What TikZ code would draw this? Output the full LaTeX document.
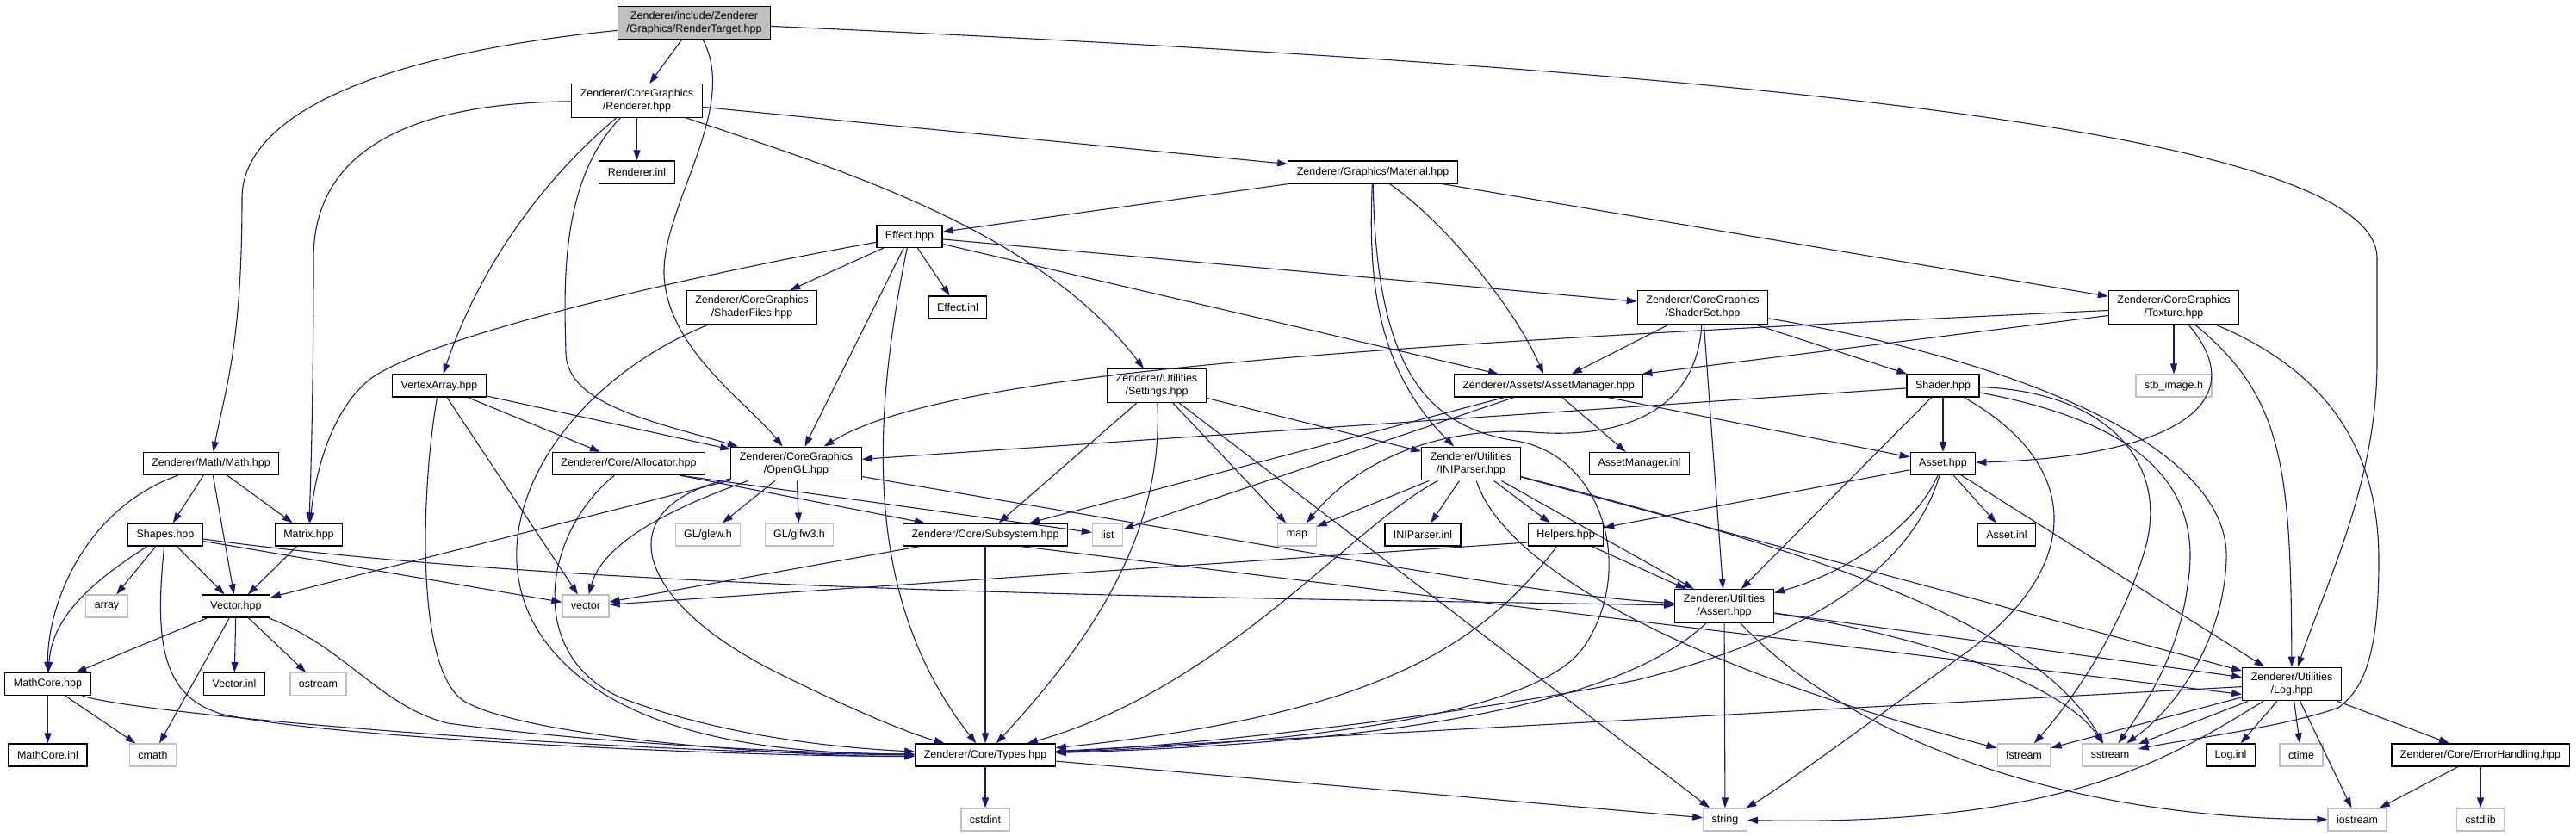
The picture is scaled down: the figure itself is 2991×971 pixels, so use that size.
\documentclass[tikz,border=0pt]{standalone}
\usepackage{fontspec}
\setmainfont{Liberation Sans}
\usetikzlibrary{positioning,arrows.meta}
\definecolor{edgeblue}{HTML}{191970}
\definecolor{sysgray}{HTML}{BFBFBF}

\begin{document}
\begin{tikzpicture}[
			x=1pt, y=-1pt,
			on grid,
			>={Triangle[length=12pt,width=8pt]},
			every node/.style={
				draw,
				fill=white,
				line width=1.2pt,
				minimum height=26pt,
				inner xsep=10pt,
				inner ysep=6pt,
				align=center,
				font=\fontsize{12.5}{15}\selectfont
			},
			sysnode/.style={draw=sysgray},
			rootnode/.style={fill=sysgray},
			incl/.style={->,draw=edgeblue,line width=1.1pt}
			]
			
			\useasboundingbox (0,0) rectangle (2991,971);
			
			%%%%%%%%%%%%%%%%%%%%%%%%%%%%%%%%%%%%%%%%%%%%%%%%%%%%%%%%%%%%
			% Root
			%%%%%%%%%%%%%%%%%%%%%%%%%%%%%%%%%%%%%%%%%%%%%%%%%%%%%%%%%%%%
			
			\node[rootnode] (rt) at (806,26.5) {Zenderer/include/Zenderer\\/Graphics/RenderTarget.hpp};
			
			\node (renderer) [below left=90.5pt and 66.5pt of rt]
			{Zenderer/CoreGraphics\\/Renderer.hpp};
			
			\node (rendererinl) [below=83pt of renderer] {Renderer.inl};
			
			\node (material) [right=854.5pt of rendererinl]
			{Zenderer/Graphics/Material.hpp};
			
			\node (effect) [below left=74.5pt and 538pt of material] {Effect.hpp};
			
			%%%%%%%%%%%%%%%%%%%%%%%%%%%%%%%%%%%%%%%%%%%%%%%%%%%%%%%%%%%%
			% Graphics Layer
			%%%%%%%%%%%%%%%%%%%%%%%%%%%%%%%%%%%%%%%%%%%%%%%%%%%%%%%%%%%%
			
			\node (shaderfiles) [below left=82.5pt and 183pt of effect]
			{Zenderer/CoreGraphics\\/ShaderFiles.hpp};
			
			\node (effectinl) [right=239pt of shaderfiles] {Effect.inl};
			
			\node (shaderset) [right=865pt of effectinl]
			{Zenderer/CoreGraphics\\/ShaderSet.hpp};
			
			\node (texture) [right=547pt of shaderset]
			{Zenderer/CoreGraphics\\/Texture.hpp};
			
			\node (vertexarray) [below left=91pt and 363pt of shaderfiles] {VertexArray.hpp};
			
			\node (settings) [right=833pt of vertexarray]
			{Zenderer/Utilities\\/Settings.hpp};
			
			\node (assetmgr) [right=455pt of settings]
			{Zenderer/Assets/AssetManager.hpp};
			
			\node (shader) [right=458pt of assetmgr] {Shader.hpp};
			
			\node[sysnode] (stbimage) [below=91pt of texture] {stb\_image.h};
			
			%%%%%%%%%%%%%%%%%%%%%%%%%%%%%%%%%%%%%%%%%%%%%%%%%%%%%%%%%%%%
			% Core Layer
			%%%%%%%%%%%%%%%%%%%%%%%%%%%%%%%%%%%%%%%%%%%%%%%%%%%%%%%%%%%%
			
			\node (math) [below left=90.5pt and 265pt of vertexarray]
			{Zenderer/Math/Math.hpp};
			
			\node (allocator) [right=485pt of math]
			{Zenderer/Core/Allocator.hpp};
			
			\node (opengl) [right=194.5pt of allocator]
			{Zenderer/CoreGraphics\\/OpenGL.hpp};
			
			\node (iniparser) [right=783.5pt of opengl]
			{Zenderer/Utilities\\/INIParser.hpp};
			
			\node (assetmgrinl) [right=195.5pt of iniparser] {AssetManager.inl};
			
			\node (asset) [below=90.5pt of shader] {Asset.hpp};
			
			\node (shapes) [below left=82.5pt and 53pt of math] {Shapes.hpp};
			
			\node (matrix) [right=166.5pt of shapes] {Matrix.hpp};
			
			\node[sysnode] (glew) [right=463.5pt of matrix] {GL/glew.h};
			
			\node[sysnode] (glfw) [right=106pt of glew] {GL/glfw3.h};
			
			\node (subsystem) [right=216pt of glfw]
			{Zenderer/Core/Subsystem.hpp};
			
			\node[sysnode] (list) [right=142pt of subsystem] {list};
			
			\node[sysnode] (map) [right=220pt of list] {map};
			
			\node (iniparserinl) [right=146pt of map] {INIParser.inl};
			
			\node (helpers) [right=166pt of iniparserinl] {Helpers.hpp};
			
			\node (assetinl) [below right=82.5pt and 74pt of asset] {Asset.inl};
			
			%%%%%%%%%%%%%%%%%%%%%%%%%%%%%%%%%%%%%%%%%%%%%%%%%%%%%%%%%%%%
			% Base Layer
			%%%%%%%%%%%%%%%%%%%%%%%%%%%%%%%%%%%%%%%%%%%%%%%%%%%%%%%%%%%%
			
			\node[sysnode] (array) [below left=83pt and 68pt of shapes] {array};
			
			\node (vectorhpp) [right=150pt of array] {Vector.hpp};
			
			\node[sysnode] (vector) [right=406pt of vectorhpp] {vector};
			
			\node (assert) [right=1322pt of vector]
			{Zenderer/Utilities\\/Assert.hpp};
			
			\node (mathcore) [below left=90.5pt and 68.5pt of array] {MathCore.hpp};
			
			\node (vectorinl) [right=216.5pt of mathcore] {Vector.inl};
			
			\node[sysnode] (ostream) [right=97.5pt of vectorinl] {ostream};
			
			\node (log) [below right=90.5pt and 659pt of assert]
			{Zenderer/Utilities\\/Log.hpp};
			
			\node (mathcoreinl) [below=82.5pt of mathcore] {MathCore.inl};
			
			\node[sysnode] (cmath) [right=122pt of mathcoreinl] {cmath};
			
			\node (types) [right=966.5pt of cmath] {Zenderer/Core/Types.hpp};
			
			\node[sysnode] (fstream) [right=1206pt of types] {fstream};
			
			\node[sysnode] (sstream) [right=100pt of fstream] {sstream};
			
			\node (loginl) [right=140pt of sstream] {Log.inl};
			
			\node[sysnode] (ctime) [right=82pt of loginl] {ctime};
			
			\node (errorhandling) [right=208pt of ctime]
			{Zenderer/Core/ErrorHandling.hpp};
			
			\node[sysnode] (cstdint) [below=75pt of types] {cstdint};
			
			\node[sysnode] (string) [right=859pt of cstdint] {string};
			
			\node[sysnode] (iostream) [right=734pt of string] {iostream};
			
			\node[sysnode] (cstdlib) [right=143pt of iostream] {cstdlib};
			
			%%%%%%%%%%%%%%%%%%%%%%%%%%%%%%%%%%%%%%%%%%%%%%%%%%%%%%%%%%%%
			% Includes
			%%%%%%%%%%%%%%%%%%%%%%%%%%%%%%%%%%%%%%%%%%%%%%%%%%%%%%%%%%%%
			
			% RenderTarget
			
			\draw[incl] (rt) -- (renderer);
			
			\draw[incl] (rt) .. controls (420,65) and (281,140) .. (281,230) .. controls (281,400) and (262,450) .. (math);
			
			\draw[incl] (rt) .. controls (860,130) and (760,250) .. (772,330) .. controls (782,410) and (870,470) .. (opengl);
			
			\draw[incl] (rt) .. controls (2000,80) and (2760,150) .. (2760,300) -- (2760,420) .. controls (2760,560) and (2700,680) .. (log);
			
			% Renderer
			
			\draw[incl] (renderer) -- (rendererinl);
			
			\draw[incl] (renderer) -- (material);
			
			\draw[incl] (renderer) .. controls (640,200) and (560,300) .. (vertexarray);
			
			\draw[incl] (renderer) .. controls (450,120) and (364,190) .. (364,300) .. controls (364,450) and (361,550) .. (matrix);
			
			\draw[incl] (renderer) .. controls (650,210) and (655,330) .. (657,410) .. controls (658,470) and (760,490) .. (opengl);
			
			\draw[incl] (renderer) .. controls (950,190) and (1200,260) .. (settings);
			
			% Material
			
			\draw[incl] (material) -- (effect);
			
			\draw[incl] (material) -- (texture);
			
			\draw[incl] (material) .. controls (1680,260) and (1760,360) .. (assetmgr);
			
			\draw[incl] (material) .. controls (1588,330) and (1600,430) .. (iniparser);
			
			\draw[incl] (material) .. controls (1598,420) and (1650,495) .. (1760,512) .. controls (1860,528) and (1900,660) .. (1840,750) .. controls (1780,840) and (1450,865) .. (types);
			
			% Effect
			
			\draw[incl] (effect) .. controls (800,320) and (500,390) .. (430,440) .. controls (380,480) and (365,560) .. (matrix);
			
			\draw[incl] (effect) -- (shaderfiles);
			
			\draw[incl] (effect) -- (effectinl);
			
			\draw[incl] (effect) -- (opengl);
			
			\draw[incl] (effect) .. controls (1010,500) and (1005,700) .. (types);
			
			\draw[incl] (effect) -- (shaderset);
			
			\draw[incl] (effect) -- (assetmgr);
			
			% ShaderFiles and VertexArray
			
			\draw[incl] (shaderfiles) .. controls (640,450) and (530,640) .. (650,765) .. controls (750,870) and (950,875) .. (types);
			
			\draw[incl] (vertexarray) .. controls (490,560) and (480,780) .. (540,815) .. controls (620,860) and (950,880) .. (types);
			
			\draw[incl] (vertexarray) -- (vector);
			
			\draw[incl] (vertexarray) -- (allocator);
			
			\draw[incl] (vertexarray) -- (opengl);
			
			% Settings
			
			\draw[incl] (settings) -- (subsystem);
			
			\draw[incl] (settings) -- (iniparser);
			
			\draw[incl] (settings) -- (map);
			
			\draw[incl] (settings) -- (string);
			
			\draw[incl] (settings) .. controls (1350,600) and (1290,720) .. (types);
			
			% AssetManager
			
			\draw[incl] (assetmgr) -- (subsystem);
			
			\draw[incl] (assetmgr) -- (list);
			
			\draw[incl] (assetmgr) -- (assetmgrinl);
			
			\draw[incl] (assetmgr) -- (asset);
			
			% ShaderSet
			
			\draw[incl] (shaderset) -- (assetmgr);
			
			\draw[incl] (shaderset) -- (shader);
			
			\draw[incl] (shaderset) -- (assert);
			
			\draw[incl] (shaderset) .. controls (1970,480) and (1880,510) .. (1780,502) .. controls (1680,495) and (1580,530) .. (map);
			
			\draw[incl] (shaderset) .. controls (2350,420) and (2590,520) .. (2585,650) .. controls (2582,740) and (2530,820) .. (sstream);
			
			% Texture
			
			\draw[incl] (texture) .. controls (1600,400) and (1100,430) .. (opengl);
			
			\draw[incl] (texture) -- (assetmgr);
			
			\draw[incl] (texture) -- (stbimage);
			
			\draw[incl] (texture) .. controls (2620,470) and (2520,530) .. (asset);
			
			\draw[incl] (texture) .. controls (2650,460) and (2660,540) .. (log);
			
			\draw[incl] (texture) .. controls (2700,430) and (2762,520) .. (2762,650) .. controls (2762,760) and (2745,800) .. (2715,822) .. controls (2650,845) and (2530,860) .. (sstream);
			
			% Shader
			
			\draw[incl] (shader) -- (opengl);
			
			\draw[incl] (shader) -- (asset);
			
			\draw[incl] (shader) -- (assert);
			
			\draw[incl] (shader) .. controls (2420,540) and (2420,660) .. (2280,760) .. controls (2170,840) and (2060,920) .. (string);
			
			\draw[incl] (shader) .. controls (2450,455) and (2520,540) .. (2490,640) .. controls (2460,740) and (2400,820) .. (fstream);
			
			\draw[incl] (shader) .. controls (2480,490) and (2560,560) .. (2540,680) .. controls (2530,760) and (2490,820) .. (sstream);
			
			% Asset
			
			\draw[incl] (asset) -- (helpers);
			
			\draw[incl] (asset) .. controls (2220,620) and (2130,670) .. (assert);
			
			\draw[incl] (asset) .. controls (2220,660) and (2100,740) .. (1900,790) .. controls (1700,830) and (1400,865) .. (types);
			
			\draw[incl] (asset) -- (assetinl);
			
			\draw[incl] (asset) -- (log);
			
			% INIParser
			
			\draw[incl] (iniparser) -- (map);
			
			\draw[incl] (iniparser) .. controls (1570,610) and (1420,800) .. (types);
			
			\draw[incl] (iniparser) -- (iniparserinl);
			
			\draw[incl] (iniparser) -- (helpers);
			
			\draw[incl] (iniparser) -- (assert);
			
			\draw[incl] (iniparser) -- (log);
			
			\draw[incl] (iniparser) .. controls (1740,640) and (1900,760) .. (fstream);
			
			\draw[incl] (iniparser) .. controls (2100,640) and (2360,720) .. (sstream);
			
			% Helpers
			
			\draw[incl] ([yshift=-9pt]helpers.west) -- (vector);
			
			\draw[incl] (helpers) .. controls (1720,750) and (1600,830) .. (types);
			
			\draw[incl] (helpers) -- (assert);
			
			% Assert
			
			\draw[incl] (assert) .. controls (1900,800) and (1700,860) .. (types);
			
			\draw[incl] (assert) -- (string);
			
			\draw[incl] (assert) -- (log);
			
			\draw[incl] (assert) .. controls (2250,740) and (2400,800) .. (sstream);
			
			\draw[incl] (assert) .. controls (2150,860) and (2400,950) .. (iostream);
			
			% Log
			
			\draw[incl] (log) -- (types);
			
			\draw[incl] (log) -- (fstream);
			
			\draw[incl] (log) -- (sstream);
			
			\draw[incl] (log) .. controls (2520,880) and (2400,960) .. (string);
			
			\draw[incl] (log) -- (loginl);
			
			\draw[incl] (log) -- (ctime);
			
			\draw[incl] (log) -- (iostream);
			
			\draw[incl] (log) -- (errorhandling);
			
			\draw[incl] (errorhandling) -- (iostream);
			
			\draw[incl] (errorhandling) -- (cstdlib);
			
			% Types
			
			\draw[incl] (types) -- (cstdint);
			
			\draw[incl] (types) -- (string);
			
			% Math
			
			\draw[incl] (math) .. controls (100,590) and (55,700) .. (mathcore);
			
			\draw[incl] (math) -- (shapes);
			
			\draw[incl] (math) -- (vectorhpp);
			
			\draw[incl] (math) -- (matrix);
			
			\draw[incl] (shapes) .. controls (100,680) and (60,720) .. (mathcore);
			
			\draw[incl] (shapes) -- (array);
			
			\draw[incl] (shapes) .. controls (180,740) and (185,810) .. (260,830) .. controls (400,860) and (900,880) .. (types);
			
			\draw[incl] (shapes) -- (vectorhpp);
			
			\draw[incl] (shapes) -- (vector);
			
			\draw[incl] ([yshift=-5pt]shapes.east) .. controls (700,690) and (1500,695) .. (assert);
			
			\draw[incl] (matrix) -- (vectorhpp);
			
			\draw[incl] (vectorhpp) -- (mathcore);
			
			\draw[incl] (vectorhpp) -- (cmath);
			
			\draw[incl] (vectorhpp) -- (vectorinl);
			
			\draw[incl] (vectorhpp) -- (ostream);
			
			\draw[incl] (vectorhpp) .. controls (400,750) and (440,820) .. (520,840) .. controls (700,865) and (950,875) .. (types);
			
			\draw[incl] (mathcore) -- (mathcoreinl);
			
			\draw[incl] (mathcore) -- (cmath);
			
			\draw[incl] (mathcore) .. controls (160,830) and (700,875) .. (types);
			
			% Allocator and OpenGL
			
			\draw[incl] (allocator) .. controls (630,620) and (610,760) .. (720,810) .. controls (850,860) and (1000,870) .. (types);
			
			\draw[incl] ([xshift=-30pt]allocator.south east) -- (list);
			
			\draw[incl] ([xshift=-30pt]allocator.south east) -- (subsystem);
			
			\draw[incl] (opengl) -- (glew);
			
			\draw[incl] (opengl) -- (glfw);
			
			\draw[incl] (opengl) .. controls (780,590) and (700,630) .. (vector);
			
			\draw[incl] (opengl) -- (vectorhpp);
			
			\draw[incl] (opengl) .. controls (700,590) and (740,700) .. (900,780) .. controls (980,820) and (1050,850) .. (types);
			
			\draw[incl] ([yshift=-15pt]opengl.east) -- (1550,647) .. controls (1750,680) and (1850,695) .. (assert);
			
			% Subsystem
			
			\draw[incl] (subsystem) -- (vector);
			
			\draw[incl] (subsystem) -- (types);
			
			\draw[incl] ([xshift=-55pt]subsystem.south east) -- ([yshift=-12pt]log.west);
			
			%%%%%%%%%%%%%%%%%%%%%%%%%%%%%%%%%%%%%%%%%%%%%%%%%%%%%%%%%%%%
			
		\end{tikzpicture}
\end{document}
